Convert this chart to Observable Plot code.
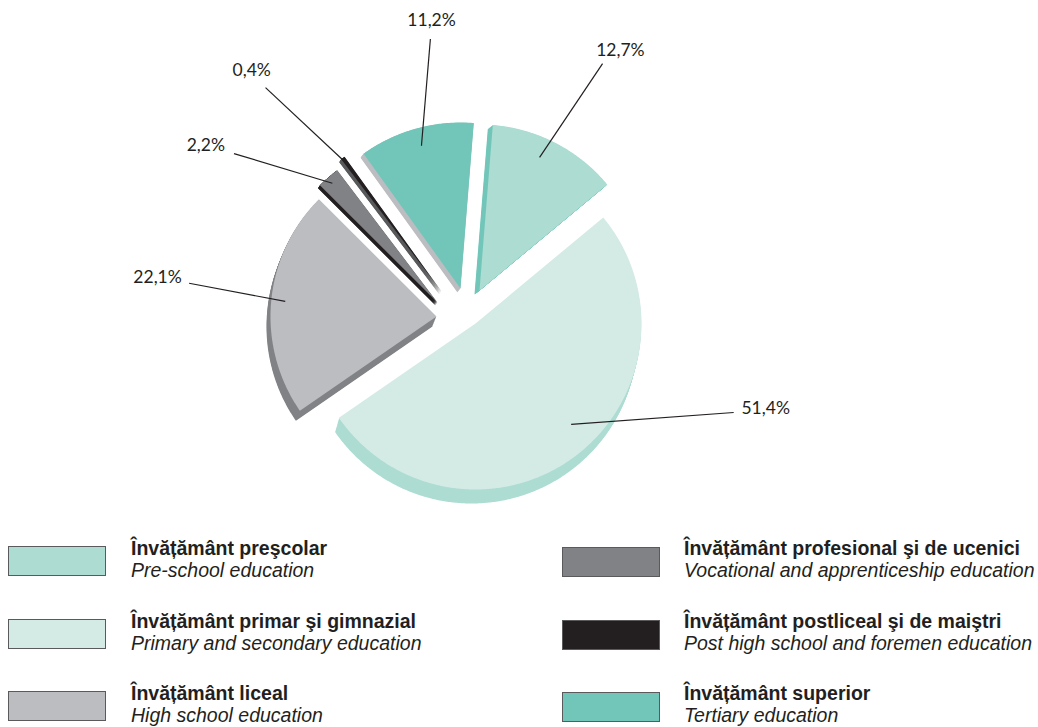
<!DOCTYPE html>
<html>
<head>
<meta charset="utf-8">
<script src="https://cdn.jsdelivr.net/npm/d3@7"></script>
<script src="https://cdn.jsdelivr.net/npm/@observablehq/plot@0.6"></script>
<style>
  html, body { margin: 0; padding: 0; background: #fff; }
  #wrap { position: relative; width: 1038px; height: 727px; font-family: "Liberation Sans", Arial, sans-serif; color: #231f20; overflow: hidden; }
  #chart { position: absolute; left: 0; top: 0; }
  .sw { position: absolute; width: 96px; height: 28px; border: 1px solid #5a5a5c; box-sizing: content-box; }
  .tx { position: absolute; white-space: nowrap; }
  .ro { font-weight: 700; font-size: 19.5px; line-height: 22px; }
  .en { font-style: italic; font-size: 19.5px; line-height: 22px; }
</style>
</head>
<body>
<div id="wrap">
  <div id="chart"></div>
  <div id="legend"></div>
</div>
<script>
// ---- data ----
const categoriesRo = [
  "Învățământ preşcolar",
  "Învățământ primar şi gimnazial",
  "Învățământ liceal",
  "Învățământ profesional şi de ucenici",
  "Învățământ postliceal şi de maiştri",
  "Învățământ superior"
];
const categoriesEn = [
  "Pre-school education",
  "Primary and secondary education",
  "High school education",
  "Vocational and apprenticeship education",
  "Post high school and foremen education",
  "Tertiary education"
];
const shares = [12.7, 51.4, 22.1, 2.2, 0.4, 11.2];
const shareLabels = ["12,7%", "51,4%", "22,1%", "2,2%", "0,4%", "11,2%"];

// ---- style ----
const fills = ["#acdcd2", "#d4ebe5", "#bcbdc0", "#808285", "#231f20", "#72c6b9"];
const shadowFills = ["#72c6b9", "#acdcd2", "#808285", "#231f20", "#58595b", "#bcbdc0"];
const explode = [[12, -23], [8, 10], [-31, 3], [-30, -11], [-26, -22], [-7, -25]];
const shadowOffset = [[-5, 4], [-4, 14], [-4, 10], [-2, 3], [-2, 3], [-3, 4]];
// [innerBearing, innerRadius, outerBearing, outerDist, labelBearing, labelDist]
const leaderLayout = [
  [24.3, 146, 28.4, 284, 30.2, 304],
  [136.5, 139, 110.4, 284, 107.7, 313],
  [275.7, 152, 276.2, 280, 276.6, 312],
  [318.6, 159, 304.4, 283, 302.7, 311],
  [323.4, 160, 318.2, 303, 318.4, 325],
  [344.7, 148, 352.3, 277, 353.0, 295]
];
const W = 1038, H = 530;
const center = [467, 313];
const radius = 166;
const startBearing = 4.6;

// ---- geometry ----
const rad = d => d * Math.PI / 180;
const polar = (p, b, r) => [p[0] + r * Math.sin(rad(b)), p[1] - r * Math.cos(rad(b))];

const total = d3.sum(shares);
let acc = startBearing;
const slices = shares.map((v, i) => {
  const a0 = acc, a1 = acc + v / total * 360;
  acc = a1;
  const apex = [center[0] + explode[i][0], center[1] + explode[i][1]];
  return {i, a0, a1, apex};
});

function slicePoints(s, off, key, color) {
  const pts = [];
  pts.push({x: s.apex[0] + off[0], y: s.apex[1] + off[1], key, color});
  const n = Math.max(2, Math.ceil((s.a1 - s.a0) / 0.5));
  for (let k = 0; k <= n; k++) {
    const b = s.a0 + (s.a1 - s.a0) * k / n;
    const [x, y] = polar(s.apex, b, radius);
    pts.push({x: x + off[0], y: y + off[1], key, color});
  }
  return pts;
}

const shadowPts = [];
const STEPS = 12;
slices.forEach(s => {
  const [sx, sy] = shadowOffset[s.i];
  for (let k = 1; k <= STEPS; k++) {
    const f = k / STEPS;
    shadowPts.push(...slicePoints(s, [sx * f, sy * f], `s${s.i}-${k}`, shadowFills[s.i]));
  }
});
const topPts = [];
slices.forEach(s => topPts.push(...slicePoints(s, [0, 0], `t${s.i}`, fills[s.i])));

const leaders = slices.map(s => {
  const L = leaderLayout[s.i];
  const p1 = polar(s.apex, L[0], L[1]);
  const p2 = polar(center, L[2], L[3]);
  const p3 = polar(center, L[4], L[5]);
  return {x1: p1[0], y1: p1[1], x2: p2[0], y2: p2[1], lx: p3[0], ly: p3[1], text: shareLabels[s.i]};
});

const chart = Plot.plot({
  width: W,
  height: H,
  margin: 0,
  x: {domain: [0, W], range: [0, W], axis: null},
  y: {domain: [0, H], range: [0, H], axis: null},
  color: {type: "identity"},
  style: {background: "transparent", fontFamily: "Lato, 'Open Sans', sans-serif"},
  marks: [
    Plot.line(shadowPts, {x: "x", y: "y", z: "key", fill: "color", stroke: "none", curve: "linear-closed"}),
    Plot.line(topPts, {x: "x", y: "y", z: "key", fill: "color", stroke: "none", curve: "linear-closed"}),
    Plot.link(leaders, {x1: "x1", y1: "y1", x2: "x2", y2: "y2", stroke: "#231f20", strokeWidth: 1.2}),
    Plot.text(leaders, {x: "lx", y: "ly", text: "text", fill: "#231f20", fontSize: 17.5, textAnchor: "middle", lineAnchor: "middle"})
  ]
});
document.getElementById("chart").appendChild(chart);

// ---- legend (HTML, from the same arrays) ----
const legend = document.getElementById("legend");
const colX = [[8, 131], [562, 684]];
const rowY = [546, 619, 691];
categoriesRo.forEach((ro, i) => {
  const col = Math.floor(i / 3), row = i % 3;
  const sw = document.createElement("div");
  sw.className = "sw";
  sw.style.left = colX[col][0] + "px";
  sw.style.top = (rowY[row] + (col ? 1 : 0)) + "px";
  sw.style.background = fills[i];
  legend.appendChild(sw);
  const tx = document.createElement("div");
  tx.className = "tx";
  tx.style.left = colX[col][1] + "px";
  tx.style.top = (rowY[row] - 9) + "px";
  tx.innerHTML = `<div class="ro"></div><div class="en"></div>`;
  tx.querySelector(".ro").textContent = ro;
  tx.querySelector(".en").textContent = categoriesEn[i];
  legend.appendChild(tx);
});
</script>
</body>
</html>
